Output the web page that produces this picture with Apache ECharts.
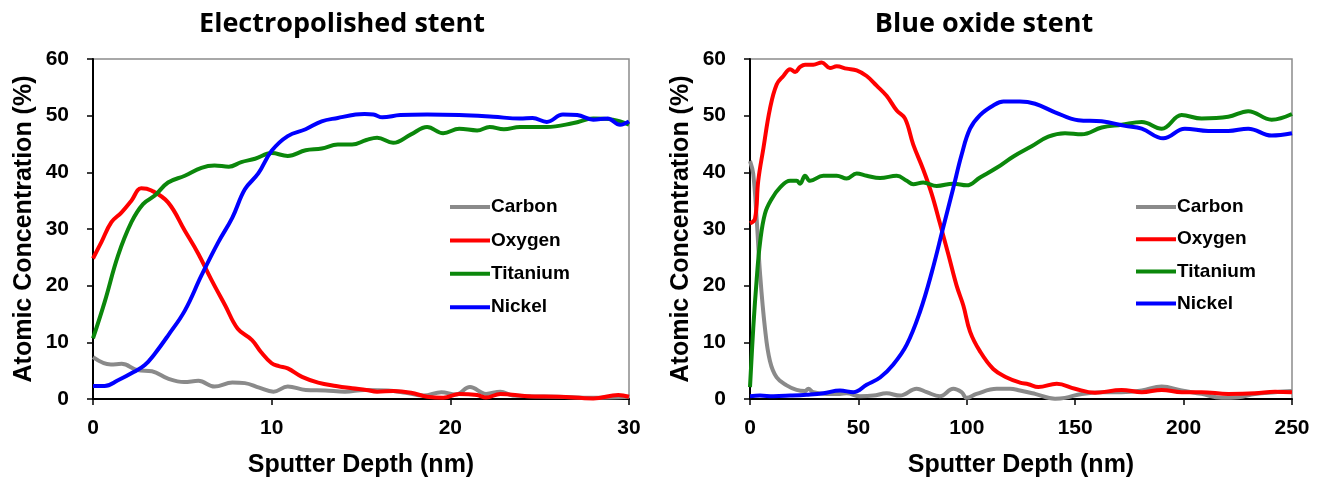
<!DOCTYPE html>
<html>
<head>
<meta charset="utf-8">
<script src="https://cdn.jsdelivr.net/npm/echarts@6/dist/echarts.min.js"></script>
<style>
  html, body { margin: 0; padding: 0; background: #fff; }
  #chart { width: 1321px; height: 483px; }
</style>
</head>
<body>
<div id="chart"></div>
<script>
// [depth nm, atomic %] pairs
const elementNames = ['Carbon', 'Oxygen', 'Titanium', 'Nickel']
const elementColors = ['#8a8a8a', '#ff0000', '#0b870b', '#0000ff']

// electropolished stent (0 - 30 nm)
const epCarbon = [[0,7.4],[1.0,6.1],[1.6,6.2],[2.5,5.1],[3.3,4.9],[4.2,3.6],[5.1,3.0],[5.9,3.2],[6.8,2.2],[7.8,2.9],[8.5,2.8],[9.3,2.0],[10.1,1.3],[10.9,2.2],[11.9,1.6],[13.0,1.5],[14.1,1.3],[15.2,1.6],[16.5,1.5],[17.5,1.1],[18.5,0.6],[19.5,1.2],[20.3,0.8],[21.1,2.1],[22.0,0.9],[22.8,1.3],[23.5,0.6],[24.5,0.5],[26,0.4],[28,0.2],[30,0.4]]
const epOxygen = [[0,24.8],[0.47,27.7],[1.03,31.2],[1.59,32.9],[2.15,35.0],[2.7,37.2],[3.27,36.8],[4.2,34.7],[5.14,29.7],[5.9,25.6],[6.6,21.2],[7.4,16.5],[8.1,12.4],[8.9,10.4],[9.4,8.3],[10.0,6.3],[10.4,5.8],[10.9,5.4],[11.7,3.9],[12.6,2.9],[13.6,2.3],[14.5,1.9],[15.3,1.6],[15.9,1.3],[16.8,1.4],[17.8,1.1],[18.7,0.4],[19.6,0.2],[20.5,0.9],[21.5,0.7],[22.0,0.25],[22.8,0.9],[24.3,0.5],[26.1,0.4],[28.0,0.1],[29.4,0.7],[30,0.4]]
const epTitanium = [[0,10.7],[0.65,17.1],[1.4,25.3],[2.15,31.2],[2.8,34.4],[3.46,35.9],[4.2,38.2],[5.14,39.4],[6.07,40.8],[6.8,41.2],[7.6,41.0],[8.3,41.8],[9.07,42.4],[10.0,43.4],[10.9,42.9],[11.9,43.9],[12.8,44.2],[13.7,44.9],[14.5,44.9],[15.3,45.7],[15.9,46.1],[16.8,45.2],[17.8,46.7],[18.7,48.0],[19.6,46.9],[20.5,47.7],[21.5,47.4],[22.2,48.0],[23.0,47.6],[23.9,48.0],[25.4,48.0],[26.9,48.7],[28.0,49.5],[29.1,49.3],[30,48.4]]
const epNickel = [[0,2.3],[0.65,2.3],[1.4,3.3],[2.3,4.8],[2.9,6.0],[3.46,8.0],[4.2,11.2],[5.14,15.6],[6.07,21.8],[7.0,27.6],[7.8,32.0],[8.5,37.0],[9.25,39.8],[10.0,43.8],[10.9,46.4],[11.9,47.6],[12.8,49.0],[13.7,49.6],[14.7,50.2],[15.2,50.3],[15.7,50.2],[16.2,49.7],[17.2,50.1],[18.7,50.2],[20.5,50.1],[22.4,49.8],[23.9,49.5],[24.6,49.6],[25.4,48.9],[26.3,50.2],[27.1,50.1],[28.0,49.3],[28.8,49.5],[29.5,48.4],[30,49.0]]

// blue oxide stent (0 - 250 nm)
const boCarbon = [[0,42.0],[1.5,39.7],[3.1,31.6],[4.6,22.3],[6.9,12.5],[9.2,6.7],[12.3,3.8],[16.9,2.4],[21.5,1.6],[25.4,1.4],[26.9,1.8],[29.2,1.2],[35.4,0.9],[41.5,0.9],[44.6,1.0],[50.7,0.5],[56.9,0.6],[63.0,1.0],[69.2,0.6],[76.9,1.8],[81.5,1.2],[87.6,0.5],[93.8,1.8],[97.6,1.2],[99.9,0.2],[104.5,0.9],[113.8,1.8],[119.9,1.8],[124.5,1.5],[131.5,0.9],[140.7,0.05],[145.3,0.2],[153.0,0.9],[162.2,1.2],[171.4,1.2],[180.7,1.5],[189.9,2.2],[199.1,1.5],[208.3,0.9],[217.5,0.2],[225.2,0.3],[232.9,0.9],[242.2,1.2],[250,1.4]]
const boOxygen = [[0,31.0],[2.3,31.8],[3.8,38.5],[6.2,44.3],[9.2,51.2],[12.3,55.5],[15.4,57.0],[18.5,58.2],[20.8,57.7],[23.1,58.6],[25.4,59.0],[29.2,59.0],[33.1,59.4],[36.9,58.4],[40.0,58.7],[44.6,58.3],[49.2,58.0],[53.8,57.0],[58.4,55.3],[63.0,53.5],[67.7,50.9],[71.5,49.5],[75.3,44.9],[79.9,40.5],[83.8,36.2],[87.6,31.0],[91.5,25.5],[95.3,20.0],[98.4,16.5],[101.5,11.9],[106.1,8.4],[112.2,5.3],[118.4,3.8],[124.5,2.9],[128.4,2.6],[133.0,2.1],[141.5,2.7],[149.9,1.8],[159.1,1.1],[171.4,1.6],[180.7,1.2],[189.9,1.6],[199.1,1.2],[208.3,1.2],[220.6,0.9],[232.9,1.0],[242.2,1.3],[250,1.2]]
const boTitanium = [[0,2.1],[1.5,12.5],[3.1,21.2],[4.6,27.5],[6.9,32.7],[10.0,35.3],[13.8,37.3],[18.5,38.5],[21.5,38.5],[23.1,38.0],[25.4,39.4],[27.7,38.5],[33.8,39.4],[40.0,39.4],[44.6,38.9],[49.2,39.8],[53.8,39.4],[60.0,39.0],[67.7,39.4],[72.3,38.5],[75.3,37.9],[79.9,38.2],[86.1,37.6],[93.8,38.0],[99.9,37.7],[106.1,39.1],[113.8,40.8],[121.5,42.8],[129.9,44.6],[137.6,46.3],[145.3,46.9],[153.0,46.7],[162.2,47.9],[171.4,48.4],[180.7,48.9],[189.9,47.7],[199.1,50.1],[208.3,49.5],[220.6,49.8],[229.8,50.8],[240.6,49.3],[250,50.3]]
const boNickel = [[0,0.5],[4.6,0.6],[10.8,0.5],[18.5,0.6],[26.1,0.75],[33.8,1.0],[41.5,1.5],[47.7,1.2],[53.8,2.5],[60.0,3.8],[66.1,6.1],[72.3,9.6],[78.4,15.4],[83.8,22.3],[89.2,30.4],[93.8,37.3],[97.6,43.1],[101.5,47.7],[106.1,50.1],[112.2,51.8],[116.9,52.5],[124.5,52.5],[131.5,52.1],[140.7,50.6],[151.4,49.2],[162.2,49.0],[173.0,48.2],[180.7,47.7],[190.6,46.0],[200.6,47.7],[211.4,47.3],[220.6,47.3],[229.8,47.7],[240.6,46.5],[250,46.9]]

const panelTitles = ['Electropolished stent', 'Blue oxide stent']
const xMax = [30, 250]
const xStep = [10, 50]

const axisFont = 'Liberation Sans, Arial, sans-serif'

function makeXAxis(i) {
    return {
        type: 'value', gridIndex: i, min: 0, max: xMax[i], interval: xStep[i],
        name: 'Sputter Depth (nm)', nameLocation: 'middle', nameGap: 54,
        nameTextStyle: { fontFamily: axisFont, fontWeight: 'bold', fontSize: 25, color: '#000' },
        axisLine: { onZero: false, lineStyle: { color: '#000', width: 2 } },
        axisTick: { inside: false, length: 6, lineStyle: { color: '#000', width: 1.5 } },
        axisLabel: { margin: 19, fontFamily: axisFont, fontWeight: 'bold', fontSize: 21, color: '#000' },
        splitLine: { show: false }
    }
}

function makeYAxis(i) {
    return {
        type: 'value', gridIndex: i, min: 0, max: 60, interval: 10,
        name: 'Atomic Concentration (%)', nameLocation: 'middle', nameGap: 56,
        nameTextStyle: { fontFamily: axisFont, fontWeight: 'bold', fontSize: 25, color: '#000' },
        axisLine: { lineStyle: { color: '#000', width: 2 } },
        axisTick: { inside: false, length: 6, lineStyle: { color: '#000', width: 1.5 } },
        axisLabel: { margin: 24, fontFamily: axisFont, fontWeight: 'bold', fontSize: 21, color: '#000' },
        splitLine: { show: false }
    }
}

function makeSeries(i, datasets) {
    return datasets.map((d, k) => ({
        name: elementNames[k], type: 'line', xAxisIndex: i, yAxisIndex: i,
        data: d, smooth: 0.4, symbol: 'none',
        lineStyle: { width: 4, color: elementColors[k] },
        itemStyle: { color: elementColors[k] },
        z: 2 + k
    }))
}

function makeLegend(left, gap) {
    return {
        orient: 'vertical', left: left, top: 192, icon: 'rect', itemWidth: 40, itemHeight: 4, itemGap: gap,
        data: elementNames,
        textStyle: { fontFamily: axisFont, fontWeight: 'bold', fontSize: 19, lineHeight: 20, color: '#000', padding: [0, 0, 0, -4] }
    }
}

const titleFont = 'bold 27px "Open Sans", Lato, sans-serif'

const chart = echarts.init(document.getElementById('chart'), null, { renderer: 'canvas' })
chart.setOption({
    animation: false,
    color: elementColors,
    graphic: [
        { type: 'text', x: 342, y: 24, style: { text: panelTitles[0], font: titleFont, fill: '#000', textAlign: 'center', textVerticalAlign: 'middle' } },
        { type: 'text', x: 984, y: 24, style: { text: panelTitles[1], font: titleFont, fill: '#000', textAlign: 'center', textVerticalAlign: 'middle' } }
    ],
    grid: [
        { left: 93, right: 692, top: 59, bottom: 82, show: true, borderColor: '#8c8c8c', borderWidth: 1.5, containLabel: false },
        { left: 750, right: 29, top: 59, bottom: 78, show: true, borderColor: '#8c8c8c', borderWidth: 1.5, containLabel: false }
    ],
    legend: [makeLegend(445, 13.4), makeLegend(1131, 12.2)],
    xAxis: [makeXAxis(0), makeXAxis(1)],
    yAxis: [makeYAxis(0), makeYAxis(1)],
    series: makeSeries(0, [epCarbon, epOxygen, epTitanium, epNickel])
        .concat(makeSeries(1, [boCarbon, boOxygen, boTitanium, boNickel]))
})
</script>
</body>
</html>
